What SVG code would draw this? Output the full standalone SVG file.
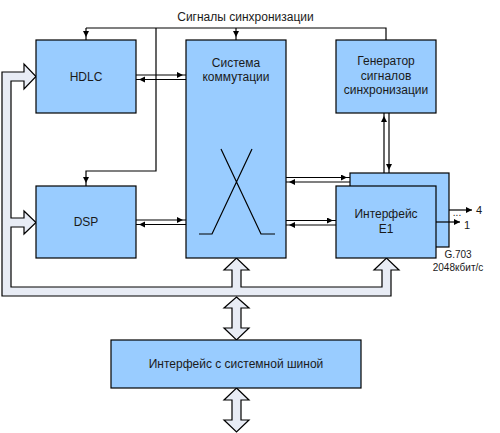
<svg xmlns="http://www.w3.org/2000/svg" width="500" height="433" viewBox="0 0 500 433">
<defs>
<style>
.box{fill:#99ccff;stroke:#000;stroke-width:1.2}
.ln{fill:none;stroke:#000;stroke-width:1.2}
.bus{fill:#e8ecf5;stroke:#000;stroke-width:1.2;stroke-linejoin:miter}
text{font-family:"Liberation Sans",Arial,sans-serif;font-size:12px;fill:#1a1a1a;text-anchor:middle}
.sm{font-size:10px}
</style>
<marker id="a" markerUnits="userSpaceOnUse" markerWidth="12" markerHeight="8" refX="9" refY="3" orient="auto">
<path d="M0,0 L6,3 L0,6 z" fill="#000"/>
</marker>
<marker id="e" markerUnits="userSpaceOnUse" markerWidth="8" markerHeight="8" refX="6" refY="3" orient="auto">
<path d="M0,0 L6,3 L0,6 z" fill="#000"/>
</marker>
</defs>

<g id="bus">
<path class="bus" d="M2,72 L24,72 L24,64 L36,76.5 L24,89 L24,81 L11,81 L11,218 L24,218 L24,211 L36,222.5 L24,234 L24,227 L11,227 L11,287 L232,287 L232,270 L224,270 L236.5,258 L249,270 L241,270 L241,287 L382,287 L382,270 L374,270 L386.5,258 L399,270 L391,270 L391,296 L2,296 Z"/>
<path class="bus" d="M236.5,297 L249,308 L241,308 L241,328 L249,328 L236.5,340 L224,328 L232,328 L232,308 L224,308 Z"/>
<path class="bus" d="M236.5,388 L249,400 L241,400 L241,420 L249,420 L236.5,432 L224,420 L232,420 L232,400 L224,400 Z"/>
</g>

<g id="hdlc">
<rect class="box" x="36" y="40" width="100" height="73"/>
<text x="86" y="81">HDLC</text>
</g>

<g id="dsp">
<rect class="box" x="36" y="186" width="100" height="72"/>
<text x="86" y="226">DSP</text>
</g>

<g id="switch">
<rect class="box" x="186" y="40" width="100" height="218"/>
<text x="236" y="67">Система</text>
<text x="236" y="81">коммутации</text>
<path class="ln" d="M221,149 L261,234 L275,234 M252,149 L212,234 L199,234"/>
</g>

<g id="gen">
<rect class="box" x="336" y="40" width="100" height="73"/>
<text x="386" y="65">Генератор</text>
<text x="386" y="79.5">сигналов</text>
<text x="386" y="94">синхронизации</text>
</g>

<g id="e1">
<rect class="box" x="350" y="173" width="99" height="74"/>
<rect class="box" x="336" y="186" width="100" height="72"/>
<text x="386" y="218">Интерфейс</text>
<text x="386" y="233">E1</text>
</g>

<g id="sysbus">
<rect class="box" x="111" y="340" width="250" height="48"/>
<text x="236" y="368">Интерфейс с системной шиной</text>
</g>

<g id="connectors">
<path class="ln" d="M86,28 L386,28 L386,40"/>
<path class="ln" d="M86,28 L86,40" marker-end="url(#a)"/>
<path class="ln" d="M236,28 L236,40" marker-end="url(#a)"/>
<path class="ln" d="M156,28 L156,171 L86,171 L86,186" marker-end="url(#a)"/>
<path class="ln" d="M136,75 L186,75" marker-end="url(#a)"/>
<path class="ln" d="M186,79.5 L136,79.5" marker-end="url(#a)"/>
<path class="ln" d="M136,220 L186,220" marker-end="url(#a)"/>
<path class="ln" d="M186,224.5 L136,224.5" marker-end="url(#a)"/>
<path class="ln" d="M286,177.5 L350,177.5" marker-end="url(#a)"/>
<path class="ln" d="M350,182 L286,182" marker-end="url(#a)"/>
<path class="ln" d="M286,220.5 L336,220.5" marker-end="url(#a)"/>
<path class="ln" d="M336,225 L286,225" marker-end="url(#a)"/>
<path class="ln" d="M384,173 L384,113" marker-end="url(#a)"/>
<path class="ln" d="M389,113 L389,173" marker-end="url(#a)"/>
<path class="ln" d="M449,210 L472,210" marker-end="url(#e)"/>
<path class="ln" d="M436,222 L460,222" marker-end="url(#e)"/>
</g>

<g id="labels">
<text x="245.5" y="21">Сигналы синхронизации</text>
<text x="479" y="214" style="font-size:11px">4</text>
<text x="467" y="229" style="font-size:11px">1</text>
<text x="457" y="216" class="sm">...</text>
<text x="458" y="258" class="sm">G.703</text>
<text x="458" y="271" class="sm">2048кбит/с</text>
</g>
</svg>
